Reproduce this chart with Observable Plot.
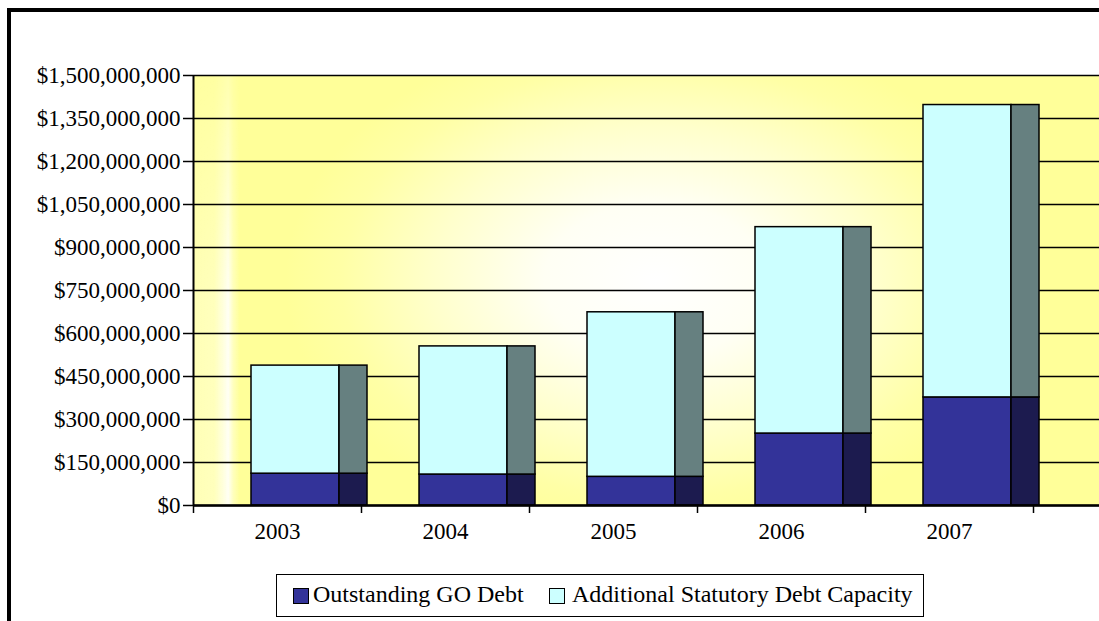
<!DOCTYPE html>
<html>
<head>
<meta charset="utf-8">
<script src="https://cdn.jsdelivr.net/npm/d3@7"></script>
<script src="https://cdn.jsdelivr.net/npm/@observablehq/plot@0.6"></script>
<style>
  html, body { margin: 0; padding: 0; background: #fff; }
  #wrap { position: relative; width: 1099px; height: 621px; overflow: hidden; background: #fff; }
  #outer { position: absolute; left: 7px; top: 8px; width: 1300px; height: 800px; border: 4px solid #000; box-sizing: border-box; }
  #chart { position: absolute; left: 0; top: 0; }
  #legend { position: absolute; left: 276px; top: 574px; width: 648px; height: 43px; border: 1px solid #000; box-sizing: border-box; background: #fff;
            font-family: "Liberation Serif", "Times New Roman", serif; font-size: 24px; color: #000; }
  .sw { position: absolute; top: 13px; width: 16px; height: 16px; border: 1px solid #000; box-sizing: border-box; }
  .lt { position: absolute; top: 5px; white-space: nowrap; line-height: 28px; }
</style>
</head>
<body>
<div id="wrap">
  <div id="outer"></div>
  <div id="chart"></div>
  <div id="legend"></div>
</div>
<script>
// ---- data (dollars, in millions) ----
const years = [2003, 2004, 2005, 2006, 2007];
const outstandingGO = [111, 108, 100, 251, 377];
const additionalCapacity = [377, 447, 574, 720, 1020];
const seriesNames = ["Outstanding GO Debt", "Additional Statutory Debt Capacity"];
const yTicks = [0, 150, 300, 450, 600, 750, 900, 1050, 1200, 1350, 1500];

const frontColors = ["#333399", "#CCFFFF"];
const sideColors = ["#1C1B4F", "#668080"];

const M = 1e6;
const rows = years.flatMap((yr, i) => [
  {year: yr, series: seriesNames[0], y1: 0, y2: outstandingGO[i] * M},
  {year: yr, series: seriesNames[1], y1: outstandingGO[i] * M, y2: (outstandingGO[i] + additionalCapacity[i]) * M}
]);
const outRows = rows.filter(d => d.series === seriesNames[0]);
const capRows = rows.filter(d => d.series === seriesNames[1]);

const boundaries = [years[0] - 0.5, ...years.map(y => y + 0.5)];
const xMin = years[0] - 0.5;
const bandPx = 168;
const W = 1099, H = 560, mL = 193, mT = 75, mB = 55;
const xMax = xMin + (W - mL) / bandPx;

const barOpts = (extra) => Object.assign({
  x1: d => d.year - 0.5, x2: d => d.year + 0.5, y1: "y1", y2: "y2",
  stroke: "black", strokeWidth: 1.5
}, extra);

const fmt = d3.format(",");

const chart = Plot.plot({
  width: W, height: H,
  marginLeft: mL, marginRight: 0, marginTop: mT, marginBottom: mB,
  style: {fontFamily: "'Liberation Serif', 'Times New Roman', serif", fontSize: "23px", color: "black", background: "transparent", overflow: "visible"},
  x: {type: "linear", domain: [xMin, xMax]},
  y: {domain: [0, 1500 * M]},
  marks: [
    Plot.frame({fill: "url(#bgRad)", stroke: null}),
    Plot.frame({fill: "url(#bgStripe)", stroke: null}),
    Plot.gridY({ticks: yTicks.map(v => v * M), stroke: "black", strokeOpacity: 1, strokeWidth: 1.5}),
    Plot.rect(outRows, barOpts({insetLeft: 58, insetRight: 22, fill: frontColors[0]})),
    Plot.rect(outRows, barOpts({insetLeft: 146, insetRight: -6, fill: sideColors[0]})),
    Plot.rect(capRows, barOpts({insetLeft: 58, insetRight: 22, fill: frontColors[1]})),
    Plot.rect(capRows, barOpts({insetLeft: 146, insetRight: -6, fill: sideColors[1]})),
    Plot.ruleX([xMin], {stroke: "black", strokeWidth: 2}),
    Plot.ruleY([0], {stroke: "black", strokeWidth: 2.5}),
    Plot.axisY({ticks: yTicks.map(v => v * M), tickFormat: d => "$" + fmt(d), tickSize: 10, tickPadding: 3, stroke: "black", strokeWidth: 1.5}),
    Plot.axisX({ticks: boundaries, tickSize: 8, tickFormat: () => "", stroke: "black", strokeWidth: 1.5}),
    Plot.axisX({ticks: years, tickSize: 0, tickPadding: 17, tickFormat: d => String(d)})
  ]
});

// gradient definitions for the yellow plot-area background
const svg = d3.select(chart);
const defs = svg.insert("defs", ":first-child");
const rad = defs.append("radialGradient").attr("id", "bgRad")
  .attr("gradientUnits", "userSpaceOnUse").attr("cx", 0).attr("cy", 0).attr("r", 1)
  .attr("gradientTransform", "translate(655,280) scale(370,255)");
[[0, "#FFFFFF"], [0.3, "#FFFFF4"], [0.6, "#FFFFCC"], [0.85, "#FFFFA6"], [1, "#FFFF99"]]
  .forEach(([o, c]) => rad.append("stop").attr("offset", o).attr("stop-color", c));
const stripe = defs.append("linearGradient").attr("id", "bgStripe")
  .attr("gradientUnits", "userSpaceOnUse").attr("x1", 195).attr("x2", 258).attr("y1", 0).attr("y2", 0);
[[0, 0.3], [0.3, 0.35], [0.45, 0.7], [0.52, 0.9], [0.6, 0.35], [0.7, 0], [1, 0]]
  .forEach(([o, a]) => stripe.append("stop").attr("offset", o).attr("stop-color", "#FFFFFF").attr("stop-opacity", a));
// vertical fade of the stripe (weaker near the top)
const fade = defs.append("linearGradient").attr("id", "fadeGrad")
  .attr("gradientUnits", "userSpaceOnUse").attr("x1", 0).attr("x2", 0).attr("y1", mT).attr("y2", 300);
[[0, 0.25], [1, 1]].forEach(([o, a]) => fade.append("stop").attr("offset", o).attr("stop-color", "#FFFFFF").attr("stop-opacity", a));
const mask = defs.append("mask").attr("id", "fadeMask").attr("maskUnits", "userSpaceOnUse")
  .attr("x", 0).attr("y", 0).attr("width", W).attr("height", H);
mask.append("rect").attr("x", 0).attr("y", 0).attr("width", W).attr("height", H).attr("fill", "url(#fadeGrad)");
svg.selectAll("rect").filter(function() { return this.getAttribute("fill") === "url(#bgStripe)"; })
  .attr("mask", "url(#fadeMask)");

document.getElementById("chart").appendChild(chart);

// legend
const legend = document.getElementById("legend");
const legendPos = [[16, 36], [272, 295]];
seriesNames.forEach((name, i) => {
  const sw = document.createElement("div");
  sw.className = "sw";
  sw.style.left = legendPos[i][0] + "px";
  sw.style.background = frontColors[i];
  legend.appendChild(sw);
  const t = document.createElement("div");
  t.className = "lt";
  t.style.left = legendPos[i][1] + "px";
  t.textContent = name;
  legend.appendChild(t);
});
</script>
</body>
</html>
